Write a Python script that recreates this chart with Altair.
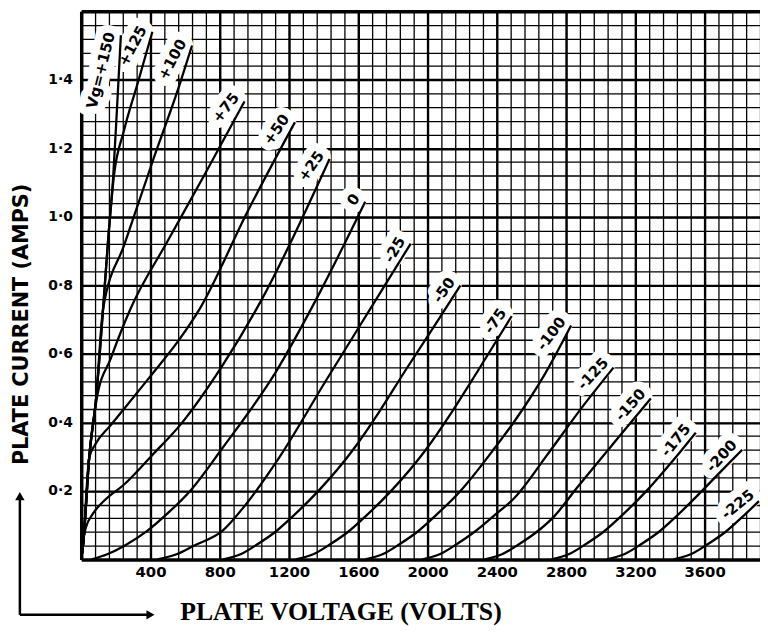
import altair as alt
import pandas as pd

# ---- data (plate volts, plate amps) ----
curve_names = ["+150", "+125", "+100", "+75", "+50", "+25", "0", "-25", "-50",
               "-75", "-100", "-125", "-150", "-175", "-200", "-225"]
label_text = ["Vg=+150", "+125", "+100", "+75", "+50", "+25", "0", "-25", "-50",
              "-75", "-100", "-125", "-150", "-175", "-200", "-225"]

v_p150 = [0, 11, 46, 86, 126, 155, 185, 207, 229]
i_p150 = [0, 0.044, 0.297, 0.47, 0.73, 0.93, 1.12, 1.32, 1.53]
v_p125 = [0, 11, 46, 86, 126, 155, 189, 246, 326, 411]
i_p125 = [0, 0.044, 0.297, 0.47, 0.73, 0.93, 1.12, 1.25, 1.39, 1.54]
v_p100 = [0, 11, 46, 86, 126, 250, 411, 571, 640]
i_p100 = [0, 0.044, 0.297, 0.47, 0.73, 0.92, 1.16, 1.39, 1.50]
v_p75 = [0, 11, 46, 90, 171, 286, 500, 720, 943]
i_p75 = [0, 0.044, 0.297, 0.47, 0.587, 0.733, 0.93, 1.13, 1.337]
v_p50 = [0, 11, 46, 80, 171, 400, 571, 686, 960, 1234]
i_p50 = [0, 0.044, 0.297, 0.335, 0.392, 0.535, 0.645, 0.733, 1.015, 1.276]
v_p25 = [0, 8, 25, 70, 140, 246, 411, 571, 817, 1046, 1434]
i_p25 = [0, 0.04, 0.09, 0.135, 0.175, 0.218, 0.305, 0.392, 0.567, 0.762, 1.169]
v_0 = [60, 150, 250, 383, 500, 629, 817, 1126, 1360, 1640]
i_0 = [0, 0.015, 0.04, 0.084, 0.135, 0.2, 0.326, 0.549, 0.762, 1.044]
v_m25 = [440, 550, 650, 817, 950, 1143, 1411, 1680, 1903]
i_m25 = [0, 0.015, 0.04, 0.084, 0.16, 0.297, 0.52, 0.74, 0.922]
v_m50 = [820, 920, 1020, 1120, 1220, 1370, 1570, 1720, 1870, 2050, 2190]
i_m50 = [0, 0.015, 0.045, 0.08, 0.125, 0.2, 0.32, 0.43, 0.55, 0.69, 0.80]
v_m75 = [1240, 1340, 1440, 1540, 1640, 1790, 1990, 2140, 2290, 2486]
i_m75 = [0, 0.015, 0.045, 0.08, 0.125, 0.2, 0.32, 0.43, 0.55, 0.71]
v_m100 = [1640, 1740, 1840, 1940, 2040, 2190, 2389, 2503, 2674, 2829]
i_m100 = [0, 0.015, 0.045, 0.08, 0.125, 0.2, 0.326, 0.404, 0.538, 0.683]
v_m125 = [1970, 2070, 2170, 2270, 2389, 2503, 2691, 2903, 3074]
i_m125 = [0, 0.015, 0.045, 0.08, 0.13, 0.18, 0.305, 0.451, 0.56]
v_m150 = [2330, 2430, 2530, 2630, 2730, 2863, 3114, 3290]
i_m150 = [0, 0.015, 0.045, 0.08, 0.125, 0.209, 0.363, 0.47]
v_m175 = [2715, 2815, 2915, 3015, 3115, 3265, 3420, 3549]
i_m175 = [0, 0.015, 0.045, 0.08, 0.125, 0.2, 0.29, 0.37]
v_m200 = [3035, 3135, 3235, 3335, 3435, 3585, 3700, 3817]
i_m200 = [0, 0.015, 0.045, 0.08, 0.125, 0.2, 0.26, 0.32]
v_m225 = [3420, 3520, 3620, 3720, 3820, 3914]
i_m225 = [0, 0.015, 0.045, 0.08, 0.125, 0.17]

x_tick_values = [400, 800, 1200, 1600, 2000, 2400, 2800, 3200, 3600]
y_tick_values = [0.2, 0.4, 0.6, 0.8, 1.0, 1.2, 1.4]

# text rotation of each curve label (style)
label_angle = [284, 298, 298, 308, 305, 305, 305, 300, 305, 305, 307, 313, 312, 309, 313, 321]

curves = [
    (v_p150, i_p150), (v_p125, i_p125), (v_p100, i_p100), (v_p75, i_p75),
    (v_p50, i_p50), (v_p25, i_p25), (v_0, i_0), (v_m25, i_m25), (v_m50, i_m50),
    (v_m75, i_m75), (v_m100, i_m100), (v_m125, i_m125), (v_m150, i_m150),
    (v_m175, i_m175), (v_m200, i_m200), (v_m225, i_m225),
]

rows = []
for name, (vs, cs) in zip(curve_names, curves):
    for v, c in zip(vs, cs):
        rows.append({"grid": name, "v": v, "i": c})
df = pd.DataFrame(rows)

lab = pd.DataFrame({
    "grid": curve_names,
    "text": label_text,
    "v": [vs[-1] for vs, _ in curves],
    "i": [cs[-1] for _, cs in curves],
    "angle": label_angle,
})

minor_x = [80 * k for k in range(0, 50)]
minor_y = [round(0.04 * k, 2) for k in range(0, 41)]

xs = alt.Scale(domain=[0, 3920], nice=False, zero=False)
ys = alt.Scale(domain=[0, 1.6], nice=False, zero=False)

# ---- halo layer (carries the fine graph-paper grid) ----
halo = alt.Chart(lab).mark_text(
    align="right", baseline="bottom", dy=-3, font="DejaVu Sans", fontSize=15,
    fontWeight="bold", fill="white", stroke="white", strokeWidth=16,
    strokeJoin="round",
).encode(
    x=alt.X("v:Q", scale=xs, axis=alt.Axis(
        orient="top", values=minor_x, grid=True, gridColor="black",
        gridWidth=1.3, gridOpacity=1, labels=False, ticks=False,
        domain=True, domainColor="black", domainWidth=3.5, title=None)),
    y=alt.Y("i:Q", scale=ys, axis=alt.Axis(
        orient="right", values=minor_y, grid=True, gridColor="black",
        gridWidth=1.3, gridOpacity=1, labels=False, ticks=False,
        domain=False, title=None)),
    text="text:N",
    angle=alt.Angle("angle:Q", scale=None),
)

# ---- curves (carry the heavy grid, labels and titles) ----
lines = alt.Chart(df).mark_line(
    color="black", strokeWidth=2.3, interpolate="monotone"
).encode(
    x=alt.X("v:Q", scale=xs, axis=alt.Axis(
        orient="bottom", values=x_tick_values, grid=True, gridColor="black",
        gridWidth=2.4, gridOpacity=1, ticks=False, domain=True,
        domainColor="black", domainWidth=3.5, format="d",
        labelFont="DejaVu Sans", labelFontSize=15, labelFontWeight="bold",
        labelColor="black", labelPadding=5,
        title="PLATE VOLTAGE (VOLTS)", titleFont="Liberation Serif",
        titleFontSize=26, titleFontWeight="bold", titleColor="black",
        titleX=262, titleY=53, titleAlign="center", titleBaseline="middle")),
    y=alt.Y("i:Q", scale=ys, axis=alt.Axis(
        orient="left", values=y_tick_values, grid=True, gridColor="black",
        gridWidth=2.4, gridOpacity=1, ticks=False, domain=True,
        domainColor="black", domainWidth=3.5,
        labelExpr="replace(format(datum.value, '.1f'), '.', '·')",
        labelFont="DejaVu Sans", labelFontSize=14, labelFontWeight="bold",
        labelColor="black", labelPadding=9,
        title="PLATE CURRENT (AMPS)", titleFont="DejaVu Sans",
        titleFontSize=21, titleFontWeight="bold", titleColor="black",
        titleAngle=270, titleX=-60, titleY=316, titleAlign="center",
        titleBaseline="middle")),
    detail="grid:N",
)

labels = alt.Chart(lab).mark_text(
    align="right", baseline="bottom", dy=-3, font="DejaVu Sans", fontSize=15,
    fontWeight="bold", color="black",
).encode(
    x=alt.X("v:Q", scale=xs, axis=None),
    y=alt.Y("i:Q", scale=ys, axis=None),
    text="text:N",
    angle=alt.Angle("angle:Q", scale=None),
)

# ---- corner arrow beside the axis titles ----
dummy = alt.Data(values=[{"k": 0}])
arrow_v = alt.Chart(dummy).mark_rule(color="black", strokeWidth=2.5).encode(
    x=alt.value(-62), y=alt.value(490), y2=alt.value(610))
arrow_h = alt.Chart(dummy).mark_rule(color="black", strokeWidth=2.5).encode(
    x=alt.value(-62), x2=alt.value(68), y=alt.value(610))
head_v = alt.Chart(dummy).mark_point(shape="triangle-up", filled=True, size=90,
                                     color="black", opacity=1).encode(
    x=alt.value(-62), y=alt.value(490))
head_h = alt.Chart(dummy).mark_point(shape="triangle-right", filled=True, size=90,
                                     color="black", opacity=1).encode(
    x=alt.value(70), y=alt.value(610))

chart = alt.layer(
    halo, lines, labels, arrow_v, arrow_h, head_v, head_h
).resolve_axis(
    x="independent", y="independent"
).properties(
    width=686, height=554,
    autosize=alt.AutoSizeParams(type="none"),
    padding={"left": 74, "top": 0, "right": 0, "bottom": 64},
    background="white",
).configure_view(stroke=None)

chart.save("out.html", embed_options={"renderer": "svg", "actions": False})
